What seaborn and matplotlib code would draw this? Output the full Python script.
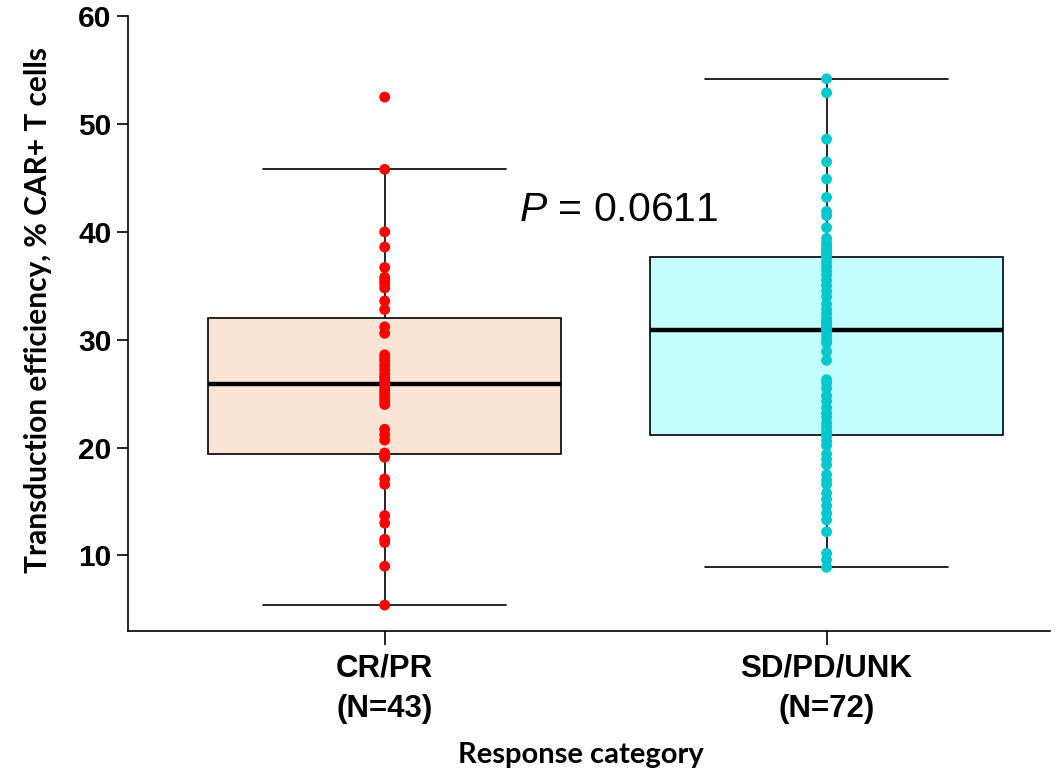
import matplotlib
matplotlib.use("Agg")
import matplotlib.pyplot as plt
import pandas as pd
import seaborn as sns

# response groups and transduction efficiency (% CAR+ T cells)
categories = ["CR/PR\n(N=43)", "SD/PD/UNK\n(N=72)"]
crpr_values = [
    5.4, 9.0, 11.2, 11.5, 13.0, 13.7, 16.6, 17.1, 19.1, 19.2, 19.3,
    19.5, 20.7, 21.2, 21.7, 24.0, 24.3, 24.6, 24.9, 25.2, 25.5,
    25.9,
    26.2, 26.5, 26.8, 27.2, 27.6, 28.0, 28.3, 28.6, 30.6, 31.2,
    32.8, 33.6, 34.8, 35.2, 35.5, 35.8, 36.7, 38.6, 40.0, 45.8, 52.5,
]
sdpd_values = [
    8.9, 9.6, 10.2, 12.2, 13.3, 13.9, 14.6, 15.2, 15.8, 16.6, 17.0, 17.5,
    18.4, 18.9, 19.4, 20.2, 20.6, 21.0,
    21.2, 21.5, 21.9, 22.3, 22.8, 23.2, 23.7, 24.3, 24.8, 25.5, 26.0, 26.3,
    28.1, 28.9, 29.7, 30.0, 30.4, 30.8,
    31.0, 31.1, 31.3, 31.5, 31.7, 32.0, 32.4, 32.8, 33.3, 34.0, 34.5, 35.0,
    35.5, 36.0, 36.4, 36.8, 37.2, 37.6,
    37.75, 37.8, 37.9, 38.0, 38.2, 38.4, 38.7, 39.0, 39.4, 40.4, 41.5, 41.9,
    43.2, 44.9, 46.5, 48.6, 52.9, 54.2,
]
box_colors = ["#FAE4D6", "#C4FEFE"]
point_colors = ["#FF0000", "#00C8CC"]
p_value = "0.0611"

df = pd.DataFrame({
    "group": [categories[0]] * len(crpr_values) + [categories[1]] * len(sdpd_values),
    "value": crpr_values + sdpd_values,
})

sns.set_theme(style="ticks")
plt.rcParams["font.family"] = ["Liberation Sans", "DejaVu Sans"]
plt.rcParams["mathtext.fontset"] = "custom"
plt.rcParams["mathtext.it"] = "Liberation Sans:italic"
plt.rcParams["mathtext.rm"] = "Liberation Sans"
plt.rcParams.update({"text.color": "black", "axes.labelcolor": "black",
                     "xtick.color": "black", "ytick.color": "black",
                     "axes.edgecolor": "black"})

fig = plt.figure(figsize=(10.55, 7.71), dpi=100)
ax = fig.add_axes([0.1213, 0.1816, 0.8737, 0.7974])

sns.boxplot(
    data=df, x="group", y="value", hue="group", order=categories,
    palette=dict(zip(categories, box_colors)), legend=False, saturation=1,
    width=0.8, showfliers=False, linecolor="black", linewidth=1.2,
    medianprops={"linewidth": 3.2}, capwidths=0.55, ax=ax,
)
sns.stripplot(
    data=df, x="group", y="value", hue="group", order=categories,
    palette=dict(zip(categories, point_colors)), legend=False,
    jitter=False, size=7.8, linewidth=0, ax=ax, zorder=5,
)

ax.set_xlim(-0.581, 1.505)
ax.set_ylim(3, 60)
ax.set_yticks([10, 20, 30, 40, 50, 60])
sns.despine(ax=ax)
ax.tick_params(axis="y", length=8, width=1.2, labelsize=21.5, pad=4)
ax.tick_params(axis="x", length=10, width=1.2, labelsize=22.5, pad=6)
for lab in ax.get_yticklabels() + ax.get_xticklabels():
    lab.set_fontweight("bold")
for lab in ax.get_xticklabels():
    lab.set_linespacing(1.45)
for sp in ax.spines.values():
    sp.set_linewidth(1.2)

ax.set_xlabel("Response category", family=["Lato", "DejaVu Sans"], fontweight="bold",
              fontsize=21)
ax.set_ylabel("Transduction efficiency, % CAR+ T cells", family=["Lato", "DejaVu Sans"],
              fontweight="bold", fontsize=21.5)
ax.xaxis.set_label_coords(0.491, -0.1805)
ax.yaxis.set_label_coords(-0.0824, 0.522)

ax.text(0.53, 42, r"$\it{P}$" + f" = {p_value}", fontsize=29.5, ha="center", va="center")

fig.savefig("out.png", dpi=100)
